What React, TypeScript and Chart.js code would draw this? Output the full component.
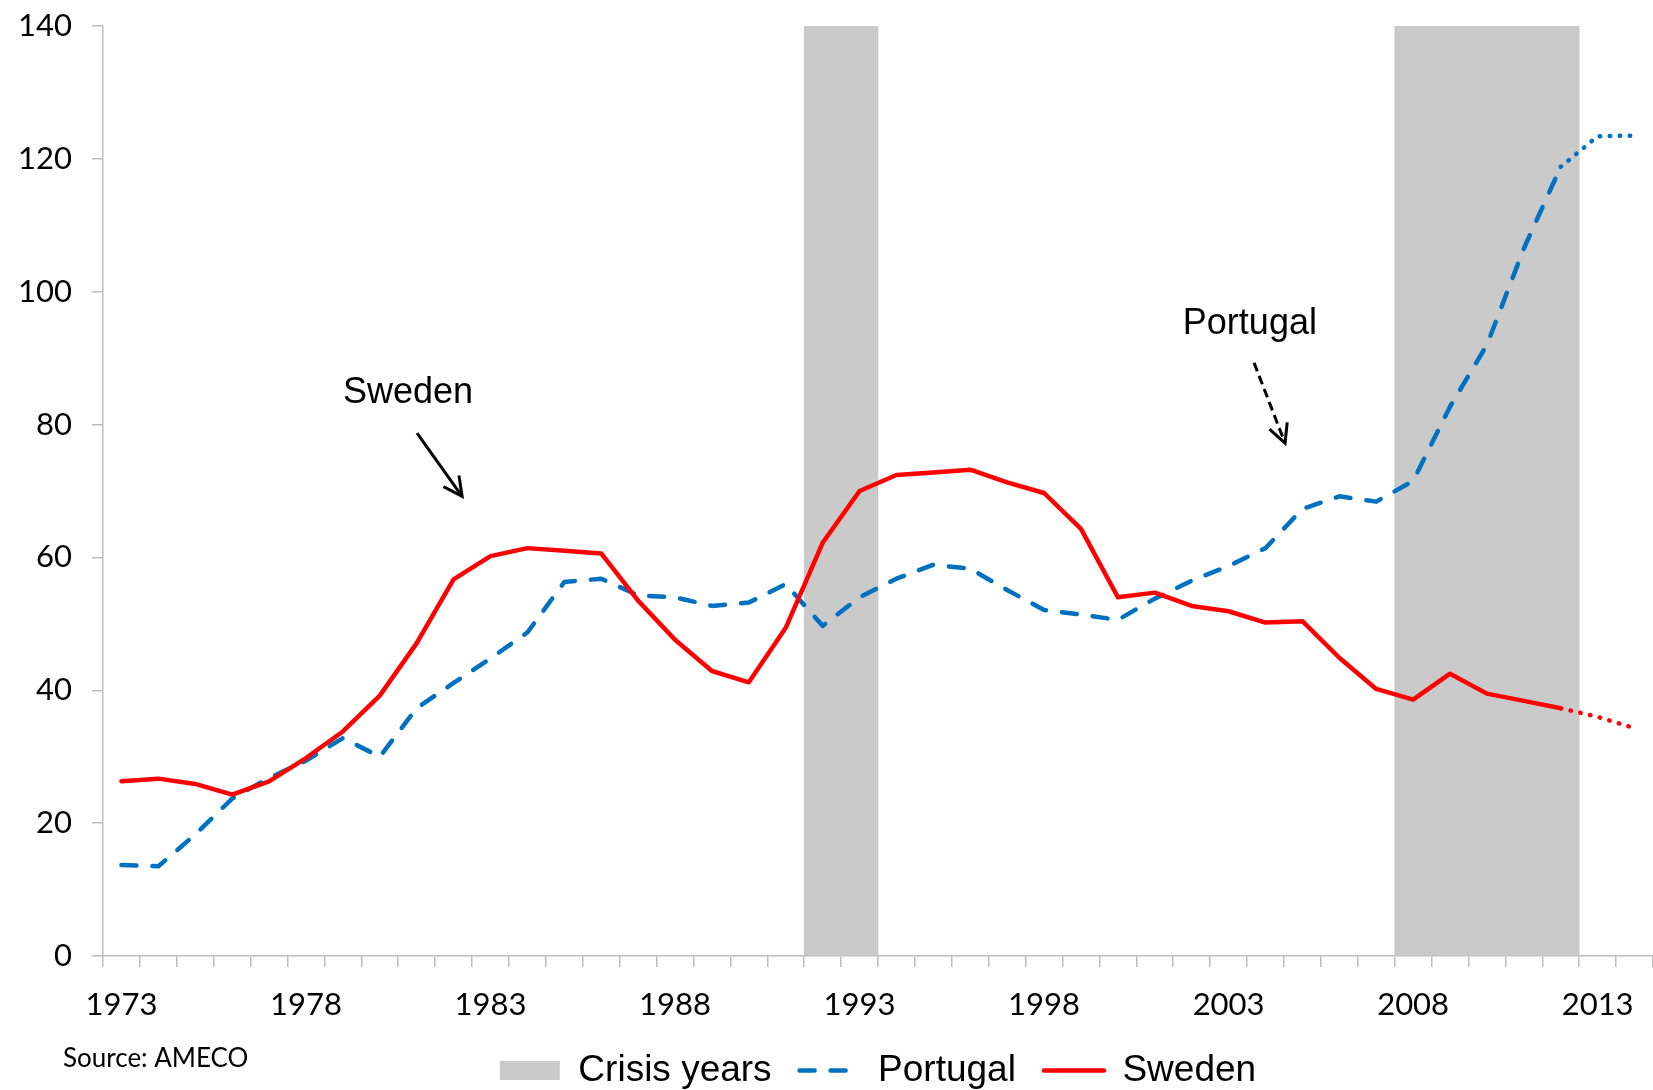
import React, { useEffect, useRef } from 'react';
import { Chart, registerables } from 'chart.js';

Chart.register(...registerables);

// ---------- data ----------
const years = [
  '1973', '1974', '1975', '1976', '1977', '1978', '1979', '1980', '1981', '1982',
  '1983', '1984', '1985', '1986', '1987', '1988', '1989', '1990', '1991', '1992',
  '1993', '1994', '1995', '1996', '1997', '1998', '1999', '2000', '2001', '2002',
  '2003', '2004', '2005', '2006', '2007', '2008', '2009', '2010', '2011', '2012',
  '2013', '2014',
];

const portugal = [
  13.7, 13.5, 18.3, 23.7, 26.8, 29.4, 32.8, 30.0, 37.3, 41.1,
  44.8, 48.7, 56.3, 56.8, 54.3, 54.0, 52.7, 53.2, 56.0, 49.7,
  54.0, 56.8, 58.9, 58.3, 55.1, 52.1, 51.4, 50.6, 53.8, 56.5,
  58.7, 61.4, 67.3, 69.2, 68.4, 71.5, 82.7, 92.0, 106.5, 118.8,
  123.4, 123.5,
];

const sweden = [
  26.3, 26.7, 25.9, 24.3, 26.3, 29.8, 33.8, 39.2, 47.1, 56.7,
  60.2, 61.4, 61.0, 60.6, 53.5, 47.6, 42.9, 41.2, 49.4, 62.2,
  70.0, 72.4, 72.8, 73.2, 71.3, 69.7, 64.3, 54.0, 54.7, 52.7,
  51.9, 50.2, 50.4, 44.9, 40.2, 38.6, 42.5, 39.5, 38.4, 37.3,
  36.0, 34.3,
];

const crisisYears = ['1992', '1993', '2008', '2009', '2010', '2011', '2012'];
const crisisHeight = 140;

// last observed year; the lines are dotted after it
const forecastFrom = '2012';

const xTickLabels = ['1973', '1978', '1983', '1988', '1993', '1998', '2003', '2008', '2013'];
const yMin = 0;
const yMax = 140;
const yStep = 20;

// annotations, in data units (x = category index, y = value)
const textNotes = [
  { text: 'Sweden', x: 6.0, y: 83.2 },
  { text: 'Portugal', x: 28.76, y: 93.6 },
];
const arrowNotes = [
  { x1: 8.01, y1: 78.7, x2: 9.23, y2: 69.2, dashed: false },
  { x1: 30.69, y1: 89.3, x2: 31.53, y2: 77.2, dashed: true },
];

const sourceText = 'Source: AMECO';

// ---------- styles ----------
const AXIS = '#bdbdbd';
const RED = '#ff0000';
const BLUE = '#0070c0';
const GREY = '#cacaca';

export default function App() {
  const ref = useRef<HTMLCanvasElement>(null);

  useEffect(() => {
    document.body.style.margin = '0';
    const canvas = ref.current;
    if (!canvas) return;

    const forecastIdx = years.indexOf(forecastFrom);
    const dotted = [0.5, 9.5];
    const crisisValues = years.map((y) => (crisisYears.includes(y) ? crisisHeight : null));

    const drawArrow = (ctx: CanvasRenderingContext2D, x1: number, y1: number, x2: number, y2: number, dashed: boolean) => {
      ctx.save();
      ctx.strokeStyle = '#000';
      ctx.lineWidth = 3;
      ctx.lineCap = 'butt';
      ctx.setLineDash(dashed ? [9, 5] : []);
      ctx.beginPath();
      ctx.moveTo(x1, y1);
      ctx.lineTo(x2, y2);
      ctx.stroke();
      ctx.setLineDash([]);
      const ang = Math.atan2(y2 - y1, x2 - x1);
      const len = 21;
      const spread = 0.47;
      ctx.beginPath();
      ctx.moveTo(x2 - len * Math.cos(ang - spread), y2 - len * Math.sin(ang - spread));
      ctx.lineTo(x2, y2);
      ctx.lineTo(x2 - len * Math.cos(ang + spread), y2 - len * Math.sin(ang + spread));
      ctx.stroke();
      ctx.restore();
    };

    const annotations = {
      id: 'annotations',
      afterDatasetsDraw(chart: any) {
        const { ctx } = chart;
        const x = chart.scales.x;
        const y = chart.scales.y;
        ctx.save();
        ctx.fillStyle = '#000';
        ctx.font = '36px "Liberation Sans", Arial, sans-serif';
        ctx.textAlign = 'left';
        ctx.textBaseline = 'alphabetic';
        textNotes.forEach((n) => {
          ctx.fillText(n.text, x.getPixelForValue(n.x), y.getPixelForValue(n.y));
        });
        arrowNotes.forEach((a) => {
          drawArrow(ctx, x.getPixelForValue(a.x1), y.getPixelForValue(a.y1), x.getPixelForValue(a.x2), y.getPixelForValue(a.y2), a.dashed);
        });
        ctx.restore();
      },
      afterDraw(chart: any) {
        const { ctx } = chart;
        ctx.save();
        ctx.fillStyle = '#000';
        ctx.font = '26px Lato, sans-serif';
        ctx.textAlign = 'left';
        ctx.textBaseline = 'alphabetic';
        ctx.fillText(sourceText, 63, 1067);
        ctx.restore();
      },
    };

    const chart = new Chart(canvas, {
      type: 'bar',
      data: {
        labels: years,
        datasets: [
          {
            type: 'bar',
            label: 'Crisis years',
            data: crisisValues,
            backgroundColor: GREY,
            borderWidth: 0,
            barPercentage: 1,
            categoryPercentage: 1,
            order: 2,
          } as any,
          {
            type: 'line',
            label: 'Portugal',
            data: portugal,
            borderColor: BLUE,
            backgroundColor: BLUE,
            borderWidth: 4.5,
            borderDash: [15, 16],
            borderCapStyle: 'round',
            borderJoinStyle: 'round',
            pointRadius: 0,
            tension: 0,
            fill: false,
            order: 1,
            segment: {
              borderDash: (c: any) => (c.p0DataIndex >= forecastIdx ? dotted : undefined),
            },
          } as any,
          {
            type: 'line',
            label: 'Sweden',
            data: sweden,
            borderColor: RED,
            backgroundColor: RED,
            borderWidth: 4.5,
            borderDash: [],
            borderCapStyle: 'round',
            borderJoinStyle: 'round',
            pointRadius: 0,
            tension: 0,
            fill: false,
            order: 0,
            segment: {
              borderDash: (c: any) => (c.p0DataIndex >= forecastIdx ? dotted : undefined),
            },
          } as any,
        ],
      },
      options: {
        responsive: false,
        animation: false,
        devicePixelRatio: 1,
        events: [],
        layout: { padding: { top: 26, left: 0, right: 0, bottom: 0 } },
        plugins: {
          tooltip: { enabled: false },
          legend: {
            position: 'bottom',
            fullSize: false,
            labels: {
              usePointStyle: true,
              pointStyleWidth: 60,
              boxHeight: 19,
              padding: 28,
              color: '#000',
              font: { family: '"Liberation Sans", Arial, sans-serif', size: 37 },
              sort: (a: any, b: any) => a.datasetIndex - b.datasetIndex,
              generateLabels: (ch: any) => {
                const items = (Chart.defaults.plugins.legend.labels as any).generateLabels(ch);
                items.forEach((it: any) => {
                  const ds = ch.data.datasets[it.datasetIndex];
                  if (ds.type === 'line') {
                    it.pointStyle = 'line';
                    it.lineWidth = ds.borderWidth;
                    it.lineDash = ds.borderDash || [];
                    it.strokeStyle = ds.borderColor;
                    it.lineCap = ds.borderCapStyle;
                  } else {
                    it.pointStyle = 'rect';
                    it.lineWidth = 0;
                    it.fillStyle = ds.backgroundColor;
                  }
                });
                return items;
              },
            },
          },
        },
        scales: {
          x: {
            type: 'category',
            offset: true,
            grid: {
              offset: true,
              drawOnChartArea: false,
              drawTicks: true,
              tickLength: 11,
              color: AXIS,
              lineWidth: 1.5,
            },
            border: { display: true, color: AXIS, width: 1.5 },
            ticks: {
              autoSkip: false,
              maxRotation: 0,
              minRotation: 0,
              padding: 19,
              color: '#000',
              font: { family: 'Lato', size: 31 },
              callback: (_v: any, i: number) => (xTickLabels.includes(years[i]) ? years[i] : ''),
            },
            afterFit: (s: any) => {
              s.height = 68;
              s.paddingLeft = 0;
              s.paddingRight = 0;
            },
          },
          y: {
            min: yMin,
            max: yMax,
            ticks: {
              stepSize: yStep,
              padding: 20,
              color: '#000',
              font: { family: 'Lato', size: 31 },
            },
            grid: {
              drawOnChartArea: false,
              drawTicks: true,
              tickLength: 11,
              color: AXIS,
              lineWidth: 1.5,
            },
            border: { display: true, color: AXIS, width: 1.5 },
            afterFit: (s: any) => {
              s.width = 103;
              s.paddingTop = 0;
              s.paddingBottom = 0;
            },
          },
        },
      } as any,
      plugins: [annotations],
    });

    return () => chart.destroy();
  }, []);

  return (
    <div
      style={{
        position: 'fixed',
        left: 0,
        top: 0,
        width: 1653,
        height: 1090,
        overflow: 'hidden',
        background: '#fff',
      }}
    >
      <canvas ref={ref} width={1653} height={1099} style={{ display: 'block', width: 1653, height: 1099 }} />
    </div>
  );
}
